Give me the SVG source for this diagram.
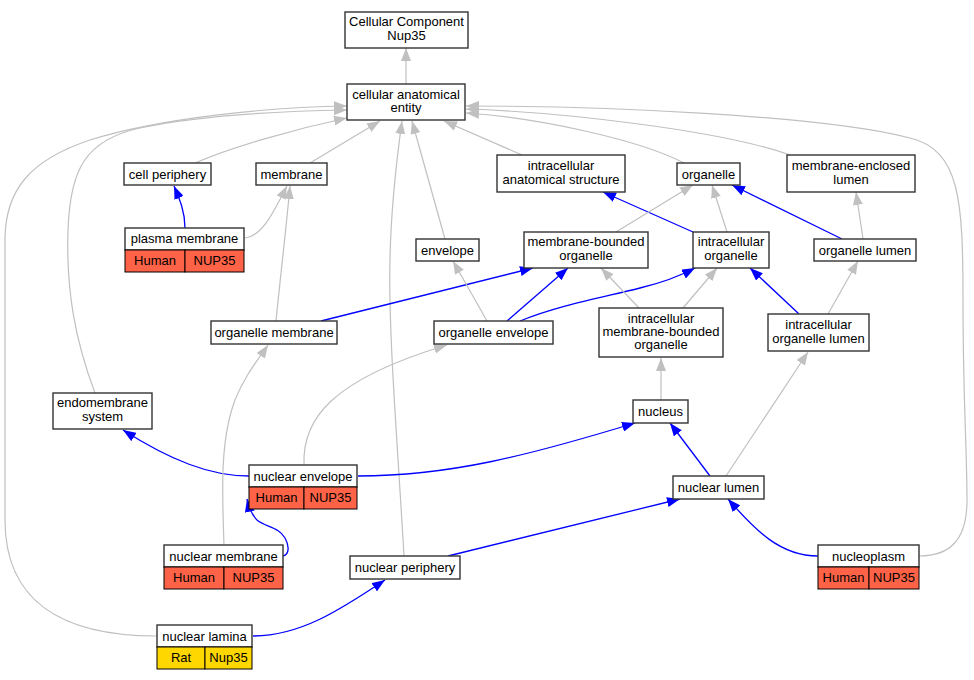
<svg xmlns="http://www.w3.org/2000/svg" width="974" height="680" viewBox="0 0 974 680">
<defs>
<marker id="ag" viewBox="0 0 13 10" markerWidth="13" markerHeight="10" refX="13" refY="5" orient="auto" markerUnits="userSpaceOnUse"><path d="M0,0L13,5L0,10z" fill="#c0c0c0"/></marker>
<marker id="ab" viewBox="0 0 13 10" markerWidth="13" markerHeight="10" refX="13" refY="5" orient="auto" markerUnits="userSpaceOnUse"><path d="M0,0L13,5L0,10z" fill="#0000ff"/></marker>
</defs>
<style>
.n{fill:#fff;stroke:#333;stroke-width:1.4}
.h{fill:#ff6347;stroke:#000;stroke-width:1}
.r{fill:#ffd700;stroke:#000;stroke-width:1}
text{font-family:"Liberation Sans",Arial,sans-serif;font-size:13px;text-anchor:middle;fill:#000}
.g{fill:none;stroke:#c0c0c0;stroke-width:1.2;marker-end:url(#ag)}
.b{fill:none;stroke:#0000ff;stroke-width:1.3;marker-end:url(#ab)}
</style>
<rect width="974" height="680" fill="#fff"/>
<g id="edges">
<path class="g" d="M406,84L406,48"/>
<path class="g" d="M195,163C230,148 290,130 347,118"/>
<path class="g" d="M310,163L380,121"/>
<path class="g" d="M404,556C398,450 388,330 390,260C391,200 398,150 402,121"/>
<path class="g" d="M445,239L412,121"/>
<path class="g" d="M522,155L444,121"/>
<path class="g" d="M684,163C640,140 540,118 466,113"/>
<path class="g" d="M790,155C720,130 560,112 466,109"/>
<path class="g" d="M919,556C950,556 967,540 967,500C967,450 963,400 963,300C963,200 960,150 910,138C820,115 600,106 466,106"/>
<path class="g" d="M95,393C75,340 66,290 68,230C70,170 85,140 140,128C200,115 290,111 347,110"/>
<path class="g" d="M157,636C60,636 5,600 5,520L5,240C5,190 30,160 90,140C160,118 270,107 347,106"/>
<path class="b" d="M185,228C185,212 180,200 174,186"/>
<path class="g" d="M245,238C262,236 272,215 287,186"/>
<path class="g" d="M276,321C280,280 286,230 290,186"/>
<path class="b" d="M321,321L533,268"/>
<path class="g" d="M487,321L453,261"/>
<path class="b" d="M507,321L568,268"/>
<path class="b" d="M520,321C560,305 600,298 640,288C665,282 680,276 695,268"/>
<path class="g" d="M639,308L601,268"/>
<path class="g" d="M683,308L717,268"/>
<path class="b" d="M693,232L603,192"/>
<path class="g" d="M616,232L693,185"/>
<path class="g" d="M727,232L712,185"/>
<path class="b" d="M842,239L732,185"/>
<path class="g" d="M863,239L856,192"/>
<path class="b" d="M799,314L750,268"/>
<path class="g" d="M828,314L858,261"/>
<path class="g" d="M661,400L661,358"/>
<path class="b" d="M710,476L670,423"/>
<path class="g" d="M726,476L808,352"/>
<path class="b" d="M818,556C780,556 755,530 728,499"/>
<path class="b" d="M448,556L680,499"/>
<path class="b" d="M249,476C210,476 170,460 123,430"/>
<path class="b" d="M358,476C450,476 530,455 635,423"/>
<path class="g" d="M304,465C302,420 330,380 447,345"/>
<path class="g" d="M224,545C222,490 220,440 235,400C245,375 258,360 268,345"/>
<path class="b" d="M283,556C290,554 289,545 285,538C279,527 265,527 257,520C252,515 249,508 247,499"/>
<path class="b" d="M253,636C300,636 340,610 385,580"/>
</g>
<g id="cellular_component_nup35"><rect class="n" x="345" y="12" width="123" height="36"/><text x="406.5" y="26">Cellular Component</text><text x="406.5" y="39.5">Nup35</text></g>
<g id="cellular_anatomical_entity"><rect class="n" x="347" y="84" width="118" height="36"/><text x="406" y="98.5">cellular anatomical</text><text x="406" y="112">entity</text></g>
<g id="cell_periphery"><rect class="n" x="124" y="163" width="87" height="22"/><text x="167.5" y="178.5">cell periphery</text></g>
<g id="membrane"><rect class="n" x="256" y="163" width="71" height="22"/><text x="291.5" y="178.5">membrane</text></g>
<g id="intracellular_anatomical_structure"><rect class="n" x="497" y="155" width="128" height="37"/><text x="561" y="170">intracellular</text><text x="561" y="183.5">anatomical structure</text></g>
<g id="organelle"><rect class="n" x="677" y="163" width="63" height="22"/><text x="708.5" y="178.5">organelle</text></g>
<g id="membrane_enclosed_lumen"><rect class="n" x="787" y="155" width="128" height="37"/><text x="851" y="170">membrane-enclosed</text><text x="851" y="183.5">lumen</text></g>
<g id="plasma_membrane"><rect class="n" x="125" y="228" width="119" height="22"/><rect class="h" x="125" y="250" width="60" height="22"/><rect class="h" x="185" y="250" width="59" height="22"/><text x="184.5" y="242.5">plasma membrane</text><text x="155" y="264.5">Human</text><text x="214.5" y="264.5">NUP35</text></g>
<g id="envelope"><rect class="n" x="416" y="239" width="63" height="22"/><text x="447.5" y="254.5">envelope</text></g>
<g id="membrane_bounded_organelle"><rect class="n" x="524" y="232" width="124" height="36"/><text x="586" y="246">membrane-bounded</text><text x="586" y="259.5">organelle</text></g>
<g id="intracellular_organelle"><rect class="n" x="693" y="232" width="76" height="36"/><text x="731" y="246">intracellular</text><text x="731" y="259.5">organelle</text></g>
<g id="organelle_lumen"><rect class="n" x="814" y="239" width="102" height="22"/><text x="865" y="254.5">organelle lumen</text></g>
<g id="organelle_membrane"><rect class="n" x="211" y="321" width="126" height="23"/><text x="274" y="337">organelle membrane</text></g>
<g id="organelle_envelope"><rect class="n" x="434" y="321" width="119" height="23"/><text x="493.5" y="337">organelle envelope</text></g>
<g id="intracellular_membrane_bounded_organelle"><rect class="n" x="599" y="308" width="124" height="49"/><text x="661" y="322.5">intracellular</text><text x="661" y="335.8">membrane-bounded</text><text x="661" y="349">organelle</text></g>
<g id="intracellular_organelle_lumen"><rect class="n" x="768" y="314" width="101" height="37"/><text x="818.5" y="329">intracellular</text><text x="818.5" y="342.5">organelle lumen</text></g>
<g id="endomembrane_system"><rect class="n" x="53" y="393" width="99" height="36"/><text x="102.5" y="407">endomembrane</text><text x="102.5" y="420.5">system</text></g>
<g id="nucleus"><rect class="n" x="633" y="400" width="55" height="23"/><text x="660.5" y="416">nucleus</text></g>
<g id="nuclear_envelope"><rect class="n" x="249" y="465" width="108" height="22"/><rect class="h" x="249" y="487" width="55" height="22"/><rect class="h" x="304" y="487" width="53" height="22"/><text x="303" y="480.5">nuclear envelope</text><text x="276.5" y="502">Human</text><text x="330.5" y="502">NUP35</text></g>
<g id="nuclear_lumen"><rect class="n" x="673" y="476" width="91" height="23"/><text x="718.5" y="492">nuclear lumen</text></g>
<g id="nuclear_membrane"><rect class="n" x="164" y="545" width="119" height="22"/><rect class="h" x="164" y="567" width="60" height="22"/><rect class="h" x="224" y="567" width="59" height="22"/><text x="223.5" y="560.5">nuclear membrane</text><text x="194" y="582">Human</text><text x="253.5" y="582">NUP35</text></g>
<g id="nuclear_periphery"><rect class="n" x="350" y="556" width="110" height="23"/><text x="405" y="572">nuclear periphery</text></g>
<g id="nucleoplasm"><rect class="n" x="818" y="545" width="101" height="22"/><rect class="h" x="818" y="567" width="51" height="22"/><rect class="h" x="869" y="567" width="50" height="22"/><text x="868.5" y="560.5">nucleoplasm</text><text x="843.5" y="582">Human</text><text x="894" y="582">NUP35</text></g>
<g id="nuclear_lamina"><rect class="n" x="157" y="625" width="95" height="22"/><rect class="r" x="157" y="647" width="48" height="22"/><rect class="r" x="205" y="647" width="47" height="22"/><text x="204.5" y="640.5">nuclear lamina</text><text x="181" y="662">Rat</text><text x="228.5" y="662">Nup35</text></g>
</svg>
